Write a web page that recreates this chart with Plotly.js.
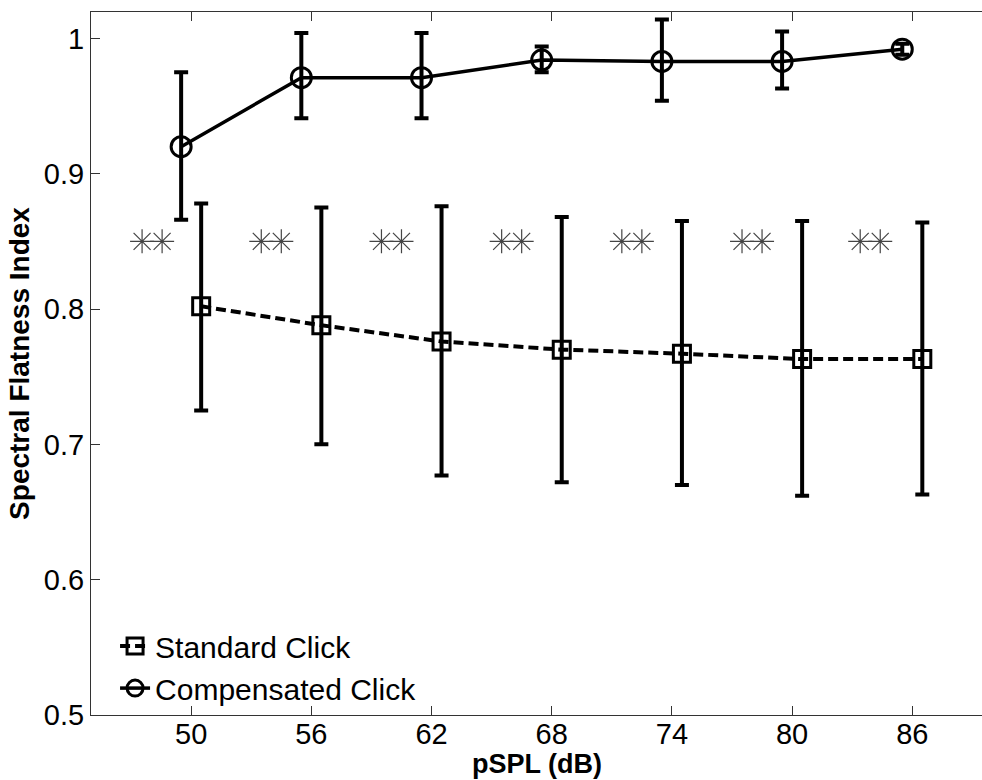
<!DOCTYPE html>
<html>
<head>
<meta charset="utf-8">
<script src="https://cdn.plot.ly/plotly-3.0.1.min.js"></script>
<style>html,body{margin:0;padding:0;background:#fff;}#chart{width:982px;height:780px;}</style>
</head>
<body>
<div id="chart"></div>
<script>
// x tick labels (pSPL, dB)
const tickLevels = [50, 56, 62, 68, 74, 80, 86];
// Compensated click (plotted slightly left of each level)
const compX = [49.5, 55.5, 61.5, 67.5, 73.5, 79.5, 85.5];
const compY = [0.920, 0.971, 0.971, 0.984, 0.983, 0.983, 0.992];
const compErrPlus = [0.055, 0.033, 0.033, 0.010, 0.031, 0.022, 0.004];
const compErrMinus = [0.054, 0.030, 0.030, 0.009, 0.029, 0.020, 0.004];
// Standard click (plotted slightly right of each level)
const stdX = [50.5, 56.5, 62.5, 68.5, 74.5, 80.5, 86.5];
const stdY = [0.802, 0.788, 0.776, 0.770, 0.767, 0.763, 0.763];
const stdErrPlus = [0.076, 0.087, 0.100, 0.098, 0.098, 0.102, 0.101];
const stdErrMinus = [0.077, 0.088, 0.099, 0.098, 0.097, 0.101, 0.100];
// significance markers (**)
const sigX = [47.55, 48.55, 53.5, 54.5, 59.5, 60.5, 65.5, 66.5, 71.5, 72.5, 77.5, 78.5, 83.4, 84.4];
const sigY = [0.85, 0.85, 0.85, 0.85, 0.85, 0.85, 0.85, 0.85, 0.85, 0.85, 0.85, 0.85, 0.85, 0.85];

const FONT = 'Liberation Sans, Arial, Helvetica, sans-serif';

const traces = [
  {
    x: stdX, y: stdY, name: 'Standard Click', type: 'scatter', mode: 'lines+markers',
    line: {color: '#000', width: 4, dash: '10px,5px'},
    marker: {symbol: 'square-open', size: 17, color: '#000', line: {width: 3, color: '#000'}},
    error_y: {type: 'data', symmetric: false, array: stdErrPlus, arrayminus: stdErrMinus,
              color: '#000', thickness: 4, width: 7}
  },
  {
    x: compX, y: compY, name: 'Compensated Click', type: 'scatter', mode: 'lines+markers',
    line: {color: '#000', width: 3.5},
    marker: {symbol: 'circle-open', size: 20, color: '#000', line: {width: 3, color: '#000'}},
    error_y: {type: 'data', symmetric: false, array: compErrPlus, arrayminus: compErrMinus,
              color: '#000', thickness: 4, width: 7}
  },
  {
    x: sigX, y: sigY, type: 'scatter', mode: 'markers', showlegend: false, hoverinfo: 'skip',
    marker: {symbol: 'asterisk-open', size: 20, color: '#444', line: {width: 1.2, color: '#444'}}
  }
];

const layout = {
  width: 982, height: 780,
  margin: {l: 91, r: 0, t: 12, b: 65},
  paper_bgcolor: '#fff', plot_bgcolor: '#fff',
  font: {family: FONT, size: 28, color: '#000'},
  showlegend: true,
  legend: {x: 0.027, y: 0.135, xanchor: 'left', yanchor: 'top', bgcolor: 'rgba(0,0,0,0)',
           font: {family: FONT, size: 30, color: '#000'}, tracegroupgap: 0},
  xaxis: {
    range: [45, 89.48], tickvals: tickLevels, ticktext: tickLevels.map(String),
    ticks: 'inside', ticklen: 9, tickwidth: 1, tickcolor: '#333',
    showline: true, linecolor: '#333', linewidth: 1, mirror: 'ticks',
    showgrid: false, zeroline: false, ticklabelstandoff: -7,
    tickfont: {family: FONT, size: 29, color: '#000'}
  },
  yaxis: {
    range: [0.5, 1.0195], tickvals: [0.5, 0.6, 0.7, 0.8, 0.9, 1], ticktext: ['0.5', '0.6', '0.7', '0.8', '0.9', '1'],
    ticks: 'inside', ticklen: 9, tickwidth: 1, tickcolor: '#333',
    showline: true, linecolor: '#333', linewidth: 1, mirror: false,
    showgrid: false, zeroline: false,
    tickfont: {family: FONT, size: 29, color: '#000'},
    title: {text: 'Spectral Flatness Index', font: {family: FONT, size: 28, color: '#000', weight: 'bold'}, standoff: 6}
  },
  annotations: [{
    text: 'pSPL (dB)', xref: 'paper', yref: 'paper', x: 0.5, y: -0.0925,
    xanchor: 'center', yanchor: 'bottom', showarrow: false, borderpad: 0,
    font: {family: FONT, size: 27, color: '#000', weight: 'bold'}
  }]
};

Plotly.newPlot('chart', traces, layout, {staticPlot: true, displayModeBar: false});
</script>
</body>
</html>
